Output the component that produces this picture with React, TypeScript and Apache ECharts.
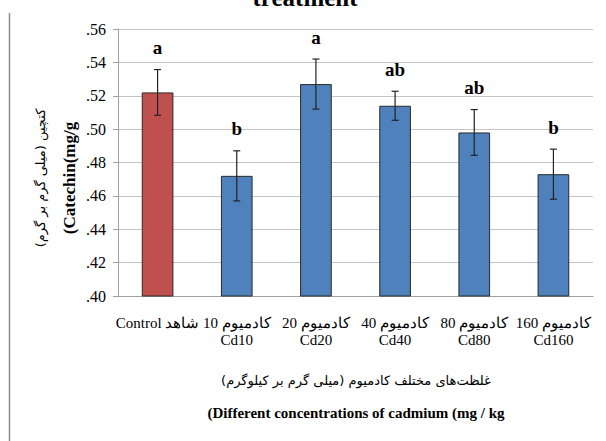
import React, { useEffect, useRef } from "react";
import * as echarts from "echarts";

const categories = [
  "Control شاهد",
  "کادمیوم 10\nCd10",
  "کادمیوم 20\nCd20",
  "کادمیوم 40\nCd40",
  "کادمیوم 80\nCd80",
  "کادمیوم 160\nCd160",
];
const means = [0.522, 0.472, 0.527, 0.514, 0.498, 0.473];
const errors = [0.0137, 0.015, 0.015, 0.0087, 0.0137, 0.015];
const letters = ["a", "b", "a", "ab", "ab", "b"];
const barColors = ["#C0504D", "#4F81BD", "#4F81BD", "#4F81BD", "#4F81BD", "#4F81BD"];

const SERIF = "Liberation Serif";
const FA = "DejaVu Sans";

export default function App() {
  const ref = useRef<HTMLDivElement>(null);
  useEffect(() => {
    if (!ref.current) return;
    const chart = echarts.init(ref.current, undefined, { renderer: "svg" });
    chart.setOption({
      animation: false,
      backgroundColor: "#ffffff",
      textStyle: { fontFamily: SERIF },
      grid: { left: 118, right: 13, top: 29, bottom: 145 },
      xAxis: {
        type: "category",
        data: categories,
        axisLine: { lineStyle: { color: "#a0a0a0", width: 1 } },
        axisTick: { show: false },
        axisLabel: {
          interval: 0,
          margin: 18,
          fontFamily: SERIF,
          fontSize: 15,
          lineHeight: 17,
          color: "#000",
        },
      },
      yAxis: {
        type: "value",
        min: 0.4,
        max: 0.56,
        interval: 0.02,
        axisLine: { show: true, lineStyle: { color: "#a0a0a0" } },
        axisTick: { show: true, length: 5, lineStyle: { color: "#a0a0a0" } },
        splitLine: { lineStyle: { color: "#c4c4c4", width: 1 } },
        axisLabel: {
          margin: 12,
          fontFamily: SERIF,
          fontSize: 16,
          color: "#000",
          formatter: (v: number) => v.toFixed(2).replace(/^0/, ""),
        },
      },
      series: [
        {
          type: "bar",
          barWidth: "40%",
          data: means.map((m, i) => ({
            value: m,
            itemStyle: { color: barColors[i], borderColor: "#2a2a2a", borderWidth: 1 },
          })),
        },
        {
          type: "custom",
          data: means.map((m, i) => [i, m - errors[i], m + errors[i]]),
          renderItem: (params: any, api: any) => {
            const i = api.value(0);
            const lo = api.coord([i, api.value(1)]);
            const hi = api.coord([i, api.value(2)]);
            const cap = 3.5;
            const style = { stroke: "#222", lineWidth: 1.2 };
            return {
              type: "group",
              children: [
                { type: "line", shape: { x1: hi[0], y1: hi[1], x2: lo[0], y2: lo[1] }, style },
                { type: "line", shape: { x1: hi[0] - cap, y1: hi[1], x2: hi[0] + cap, y2: hi[1] }, style },
                { type: "line", shape: { x1: lo[0] - cap, y1: lo[1], x2: lo[0] + cap, y2: lo[1] }, style },
                {
                  type: "text",
                  x: hi[0],
                  y: hi[1] - 22,
                  style: {
                    text: letters[i],
                    fontFamily: SERIF,
                    fontWeight: "bold",
                    fontSize: 19,
                    fill: "#000",
                    align: "center",
                    verticalAlign: "middle",
                  },
                },
              ],
            };
          },
          z: 5,
        },
      ],
      graphic: [
        {
          type: "text",
          x: 305,
          y: -3,
          style: {
            text: "treatment",
            fontFamily: SERIF,
            fontWeight: "bold",
            fontSize: 25,
            fill: "#000",
            align: "center",
            verticalAlign: "middle",
          },
        },
        {
          type: "line",
          shape: { x1: 9.5, y1: 13, x2: 9.5, y2: 441 },
          style: { stroke: "#8a8a8a", lineWidth: 1.5 },
        },
        {
          type: "text",
          x: 40,
          y: 178,
          rotation: Math.PI / 2,
          style: {
            text: "کتچین (میلی گرم بر گرم)",
            fontFamily: FA,
            fontSize: 13,
            fill: "#000",
            align: "center",
            verticalAlign: "middle",
          },
        },
        {
          type: "text",
          x: 69,
          y: 178,
          rotation: Math.PI / 2,
          style: {
            text: "(Catechin(mg/g",
            fontFamily: SERIF,
            fontWeight: "bold",
            fontSize: 17,
            fill: "#000",
            align: "center",
            verticalAlign: "middle",
          },
        },
        {
          type: "text",
          x: 356,
          y: 380,
          style: {
            text: "غلظت‌های مختلف کادمیوم (میلی گرم بر کیلوگرم)",
            fontFamily: FA,
            fontSize: 13,
            fill: "#000",
            align: "center",
            verticalAlign: "middle",
          },
        },
        {
          type: "text",
          x: 356,
          y: 413,
          style: {
            text: "(Different concentrations of cadmium (mg / kg",
            fontFamily: SERIF,
            fontWeight: "bold",
            fontSize: 15,
            fill: "#000",
            align: "center",
            verticalAlign: "middle",
          },
        },
      ],
    });
    return () => chart.dispose();
  }, []);
  return (
    <div
      ref={ref}
      style={{ position: "fixed", left: 0, top: 0, width: 606, height: 441 }}
    />
  );
}
